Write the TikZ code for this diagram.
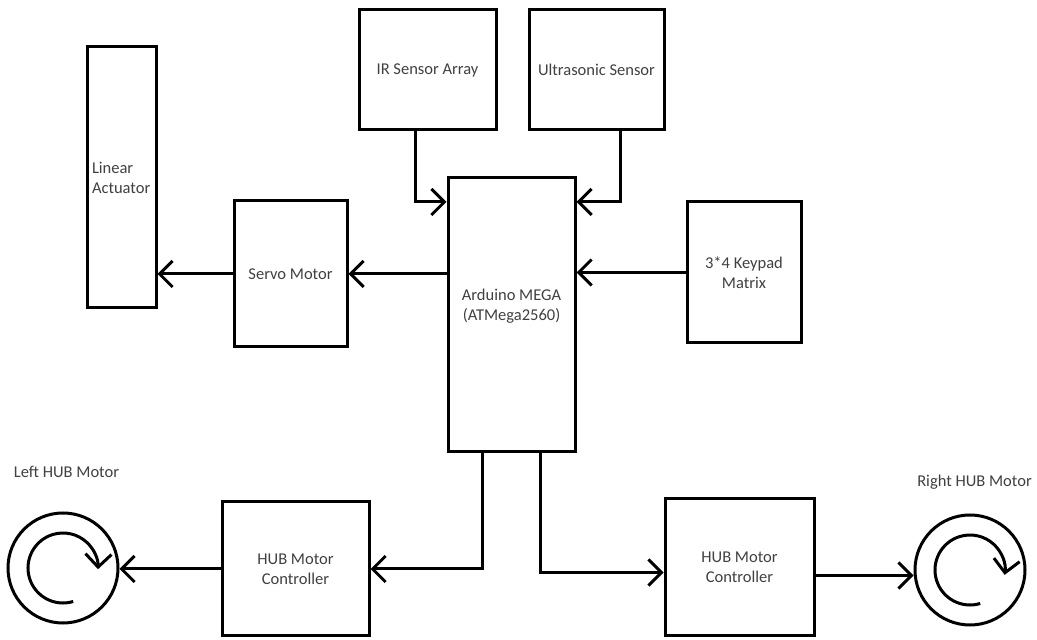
\documentclass[tikz,border=0pt]{standalone}
\usepackage{fontspec}
\setmainfont{Carlito}
\usetikzlibrary{arrows.meta, calc, positioning}
\tikzset{blk/.style={draw=black, line width=3pt, rectangle, inner sep=0pt, align=center, text=black!75, font=\fontsize{16.5}{20}\selectfont}}
\tikzset{arr/.style={line width=3pt, -{Straight Barb[length=13pt, width=26pt]}}}
\tikzset{mtr/.style={draw=black, line width=3pt, circle, inner sep=0pt, minimum size=110pt}}
\tikzset{lbl/.style={text=black!75, font=\fontsize{16.5}{20}\selectfont}}

\begin{document}
\begin{tikzpicture}[x=1pt, y=1pt]
                        \useasboundingbox (0,0) rectangle (1037,640);
                        \node[blk, minimum width=69pt, minimum height=261pt, text width=59pt, align=left] (la) at (121.5, 462.5) {Linear\\Actuator};
                        \node[blk, minimum width=137pt, minimum height=120pt] (ir) at (427.5, 570) {IR Sensor Array};
                        \node[blk, minimum width=135pt, minimum height=120pt] (us) at (596.5, 570) {Ultrasonic Sensor};
                        \node[blk, minimum width=113pt, minimum height=146pt] (srv) at (290.5, 366) {Servo Motor};
                        \node[blk, minimum width=127pt, minimum height=274pt] (ard) at (511.5, 325) {};
                        \node[lbl, align=center] (ardt) at (511.5, 334) {Arduino MEGA\\(ATMega2560)};
                        \node[blk, minimum width=114pt, minimum height=141pt] (key) at (744, 367.5) {3*4 Keypad\\Matrix};
                        \node[blk, minimum width=147pt, minimum height=134pt] (hl) at (295.5, 71) {HUB Motor\\Controller};
                        \node[blk, minimum width=149pt, minimum height=137pt] (hr) at (739.5, 72.5) {HUB Motor\\Controller};

                        \node[mtr] (lm) at (63, 72) {};
                        \node[mtr] (rm) at (970, 70) {};
                        \draw[arr] ($(lm) + (-73:35)$) arc[start angle=-73, end angle=-362, radius=35];
                        \draw[arr] ($(rm) + (-73:35)$) arc[start angle=-73, end angle=-368, radius=35];

                        \node[lbl] (lhm) at (66.5, 168) {Left HUB Motor};
                        \node[lbl] (rhm) at (974.5, 158) {Right HUB Motor};

                        \draw[arr] ([xshift=-12.5pt]ir.south) |- ([yshift=113pt]ard.west);
                        \draw[arr] ([xshift=23.5pt]us.south) |- ([yshift=113pt]ard.east);
                        \draw[arr] (key.west) -- (key.west -| ard.east);
                        \draw[arr] (ard.west |- srv.east) -- (srv.east);
                        \draw[arr] (srv.west) -- (srv.west -| la.east);
                        \draw[arr] ([xshift=-29.5pt]ard.south) |- (hl.east);
                        \draw[arr] (hl.west) -- (hl.west -| lm.east);
                        \draw[arr] ([xshift=28.5pt]ard.south) |- ([yshift=-5pt]hr.west);
                        \draw[arr] ([yshift=-8pt]hr.east) -- ([yshift=-8pt]hr.east -| rm.west);
                    \end{tikzpicture}
\end{document}
